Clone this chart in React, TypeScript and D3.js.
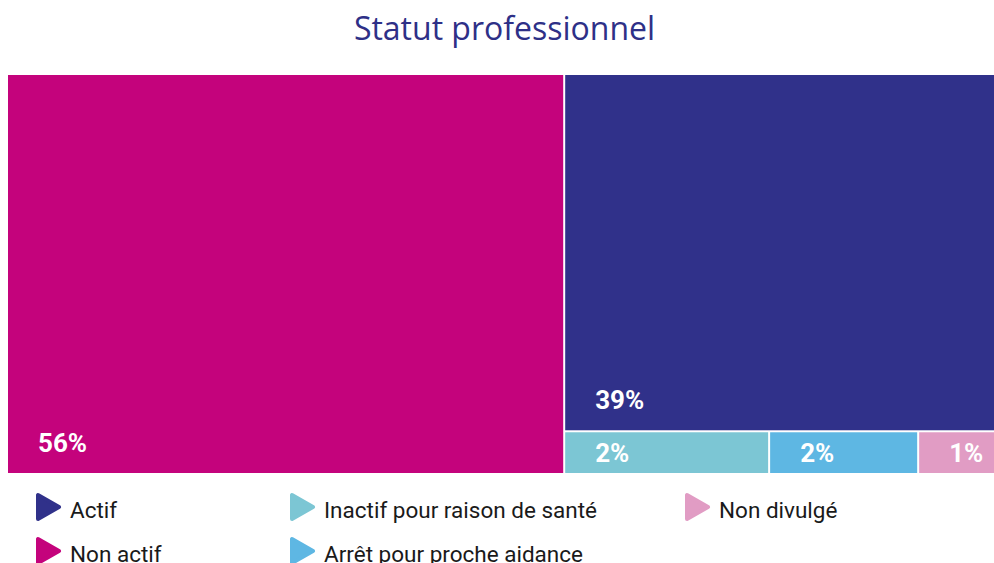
import React, { useMemo } from 'react';
import * as d3 from 'd3';

const title = 'Statut professionnel';
const categories = ['Non actif', 'Actif', 'Inactif pour raison de santé', 'Arrêt pour proche aidance', 'Non divulgé'];
const shares = [56, 39.3, 2.2, 1.6, 0.9];
const colors = ['#c4037c', '#30318a', '#7cc6d4', '#5eb7e3', '#e19cc4'];
// legend reads column by column
const legendOrder = ['Actif', 'Non actif', 'Inactif pour raison de santé', 'Arrêt pour proche aidance', 'Non divulgé'];

const width = 994;
const height = 563;
const offset = 8;
const mapWidth = 993;
const mapTop = 67;
const mapBottom = 465;
const legendCols = [28, 282, 677];
const legendRowY = [499, 543];

type Leaf = { name: string; value: number; color: string };

export default function App() {
  const leaves = useMemo(() => {
    const leaf = (i: number) => ({ name: categories[i], value: shares[i], color: colors[i] });
    // layout as in the original: big block left, then Actif over the small ones
    const data = {
      name: 'root',
      children: [
        leaf(0),
        { name: 'right', children: [leaf(1), { name: 'bottom', children: [leaf(2), leaf(3), leaf(4)] }] },
      ],
    };
    const root = d3.hierarchy<any>(data).sum((d) => d.value || 0);
    d3.treemap<any>().tile(d3.treemapSliceDice).size([mapWidth, mapBottom - mapTop]).paddingInner(2)(root);
    return root.leaves() as d3.HierarchyRectangularNode<Leaf>[];
  }, []);

  const colorOf = d3.scaleOrdinal<string, string>().domain(categories).range(colors);

  return (
    <div style={{ position: 'fixed', left: 0, top: 0, width, height, overflow: 'hidden', background: '#fff' }}>
      <svg width={width} height={height} style={{ display: 'block' }}>
        <g transform={`translate(${offset},${offset})`}>
          <text x={mapWidth / 2} y={32} textAnchor="middle" fontFamily="'Open Sans', sans-serif" fontWeight={500}
            fontSize={32} fill="#2e3087">{title}</text>
          <g transform={`translate(0,${mapTop})`}>
            {leaves.map((d) => {
              const h = d.y1 - d.y0;
              const base = d.y1 - Math.min(21, (h - 18) / 2);
              return (
                <g key={d.data.name}>
                  <rect x={d.x0} y={d.y0} width={d.x1 - d.x0} height={h} fill={d.data.color} />
                  <text x={d.x0 + 30} y={base} fill="#fff" fontFamily="Roboto, sans-serif" fontWeight={700} fontSize={26}>
                    {Math.round(d.data.value) + '%'}
                  </text>
                </g>
              );
            })}
          </g>
          <g>
            {legendOrder.map((name, i) => {
              const x = legendCols[Math.floor(i / 2)];
              const y = legendRowY[i % 2];
              return (
                <g key={name} transform={`translate(${x},${y})`}>
                  <path d="M2,-12 L2,12 L23,0 Z" fill={colorOf(name)} stroke={colorOf(name)} strokeWidth={4} strokeLinejoin="round" />
                  <text x={34} y={11} fontFamily="Roboto, sans-serif" fontSize={22.5} fill="#1a1a1a">{name}</text>
                </g>
              );
            })}
          </g>
        </g>
      </svg>
    </div>
  );
}
